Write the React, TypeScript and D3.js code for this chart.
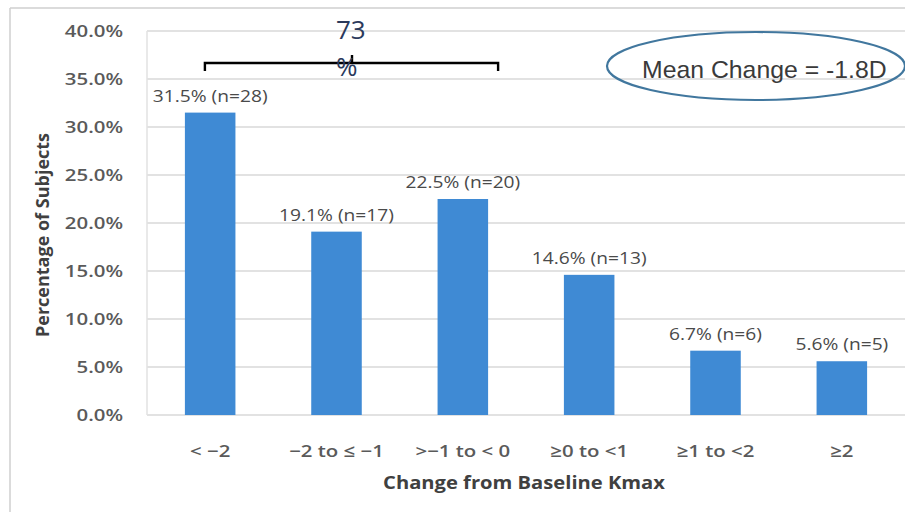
import React from "react";
import * as d3 from "d3";

const categories = ["< −2", "−2 to ≤ −1", ">−1 to < 0", "≥0 to <1", "≥1 to <2", "≥2"];
const percentages = [31.5, 19.1, 22.5, 14.6, 6.7, 5.6];
const counts = [28, 17, 20, 13, 6, 5];
const yTickValues = [0, 5, 10, 15, 20, 25, 30, 35, 40];
const bracketLabel = ["73", "%"];
const meanLabel = "Mean Change = -1.8D";
const xTitle = "Change from Baseline Kmax";
const yTitle = "Percentage of Subjects";

const W = 905;
const H = 512;
const plot = { left: 147, right: 905, top: 31, bottom: 415 };
const SX = 1.2;
const FONT = "'Open Sans', 'DejaVu Sans', sans-serif";

export default function App() {
  const x = d3
    .scaleBand<string>()
    .domain(categories)
    .range([plot.left, plot.right])
    .paddingInner(0.6)
    .paddingOuter(0.3);
  const y = d3.scaleLinear().domain([0, 40]).range([plot.bottom, plot.top]);
  const fmt = d3.format(".1f");
  const bw = x.bandwidth();

  const bLeft = (x(categories[0]) as number) + 20;
  const bRight = (x(categories[2]) as number) + bw + 10;
  const bY = 63;

  return (
    <svg
      width={W}
      height={H}
      style={{ position: "absolute", left: 0, top: 0, background: "#fff" }}
    >
      {/* outer frame */}
      <line x1={10} x2={W} y1={8} y2={8} stroke="#cfcfcf" strokeWidth={1.5} />
      <line x1={10} x2={10} y1={8} y2={H} stroke="#cfcfcf" strokeWidth={1.5} />

      {/* gridlines */}
      {yTickValues.map((t) => (
        <line
          key={"g" + t}
          x1={plot.left}
          x2={plot.right}
          y1={y(t)}
          y2={y(t)}
          stroke="#d9d9d9"
          strokeWidth={1.5}
        />
      ))}
      <line x1={plot.left} x2={plot.left} y1={plot.top} y2={plot.bottom} stroke="#e2e2e2" strokeWidth={1.5} />

      {/* y tick labels */}
      {yTickValues.map((t) => (
        <text
          key={"t" + t}
          transform={`translate(123,${y(t) + 6}) scale(${SX},1)`}
          textAnchor="end"
          fontFamily={FONT}
          fontWeight={600}
          fontSize={17}
          fill="#5a5a5a"
        >
          {fmt(t) + "%"}
        </text>
      ))}

      {/* bars */}
      {categories.map((c, i) => (
        <rect
          key={"b" + c}
          x={x(c)}
          y={y(percentages[i])}
          width={bw}
          height={y(0) - y(percentages[i])}
          fill="#3f8ad4"
        />
      ))}

      {/* data labels */}
      {categories.map((c, i) => (
        <text
          key={"l" + c}
          transform={`translate(${(x(c) as number) + bw / 2},${y(percentages[i]) - 11}) scale(${SX},1)`}
          textAnchor="middle"
          fontFamily={FONT}
          fontSize={16}
          fill="#4a4a4a"
        >
          {`${fmt(percentages[i])}% (n=${counts[i]})`}
        </text>
      ))}

      {/* x tick labels */}
      {categories.map((c) => (
        <text
          key={"x" + c}
          transform={`translate(${(x(c) as number) + bw / 2},${plot.bottom + 42}) scale(${SX},1)`}
          textAnchor="middle"
          fontFamily={FONT}
          fontWeight={600}
          fontSize={17}
          fill="#5a5a5a"
        >
          {c}
        </text>
      ))}

      {/* axis titles */}
      <text
        transform={`translate(${(plot.left + plot.right) / 2 - 2},489) scale(1.12,1)`}
        textAnchor="middle"
        fontFamily={FONT}
        fontWeight="bold"
        fontSize={18}
        fill="#404040"
      >
        {xTitle}
      </text>
      <text
        transform={`translate(49,${(plot.top + plot.bottom) / 2 + 12}) rotate(-90)`}
        textAnchor="middle"
        fontFamily={FONT}
        fontWeight="bold"
        fontSize={18}
        fill="#404040"
      >
        {yTitle}
      </text>

      {/* bracket annotation */}
      <path
        d={`M${bLeft},${bY + 8}V${bY}H${bRight}V${bY + 8}M352,${bY}V${bY - 8}`}
        fill="none"
        stroke="#000"
        strokeWidth={2.4}
      />
      <text x={336} y={39} fontFamily={FONT} fontSize={26} fill="#2b3a5c">
        {bracketLabel[0]}
      </text>
      <text x={336} y={76} fontFamily={FONT} fontSize={26} fill="#2b3a5c">
        {bracketLabel[1]}
      </text>

      {/* mean change ellipse */}
      <ellipse cx={756} cy={66} rx={149} ry={34} fill="none" stroke="#41779e" strokeWidth={2.2} />
      <text
        x={642}
        y={78}
        fontFamily="'Liberation Sans', Arial, sans-serif"
        fontSize={24.8}
        fill="#3a3a3a"
      >
        {meanLabel}
      </text>
    </svg>
  );
}
